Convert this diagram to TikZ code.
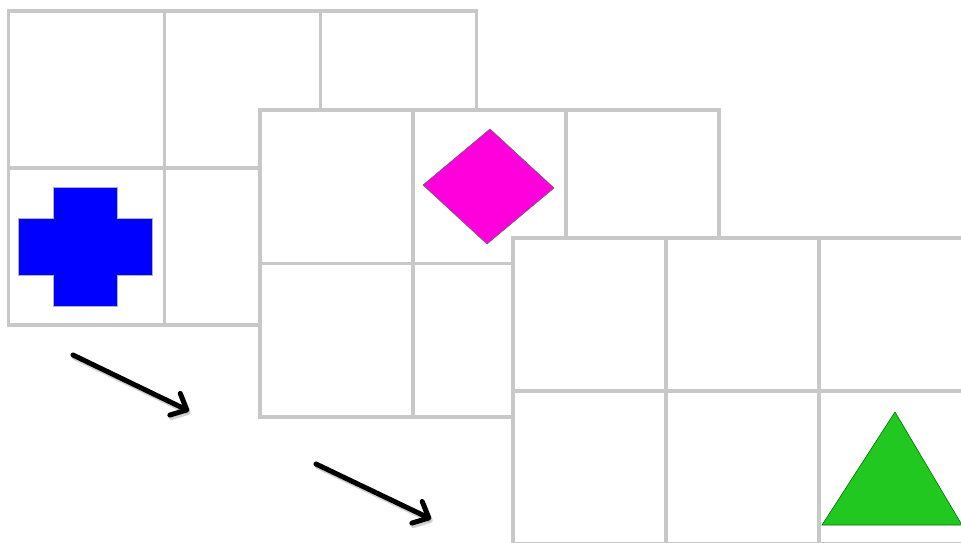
\documentclass[tikz,border=0pt]{standalone}
\usepackage{xcolor}
\usepackage{tikz}
\usetikzlibrary{arrows.meta, calc}
\definecolor{gridgray}{RGB}{200, 200, 200}
\definecolor{crossblue}{RGB}{0, 0, 255}
\definecolor{diamondpink}{RGB}{255, 0, 221}
\definecolor{trianglegreen}{RGB}{32, 200, 32}

\begin{document}
\begin{tikzpicture}[
    x=1pt, y=-1pt,
    cellbox/.style={draw=gridgray, line width=3.5pt, fill=white},
    movearrow/.style={line width=5pt, line cap=round, -{Straight Barb[length=13pt, width=24pt, line cap=round, line join=round]}},
    shadowarrow/.style={movearrow, draw=black, opacity=0.18}
]
\clip (0,0) rectangle (961,543);
\fill[white] (0,0) rectangle (961,543);

% Grid one (cross)
\foreach \c in {0,1,2} {
  \foreach \r in {0,1} {
    \draw[cellbox] ({8.5+156*\c},{11+157*\r}) rectangle ++(156,157);
  }
}
\filldraw[fill=crossblue, draw=gray!60, line width=0.5pt]
  (53,187) -- (117,187) -- (117,218) -- (152,218) -- (152,275) -- (117,275)
  -- (117,306) -- (53,306) -- (53,275) -- (18,275) -- (18,218) -- (53,218) -- cycle;

% Grid two (diamond)
\foreach \c in {0,1,2} {
  \foreach \r in {0,1} {
    \draw[cellbox] ({260+153*\c},{110+153.5*\r}) rectangle ++(153,153.5);
  }
}
\filldraw[fill=diamondpink, draw=black!60, line width=0.6pt]
  (490,129) -- (554,188) -- (487,244) -- (423,185) -- cycle;

% Grid three (triangle)
\foreach \c in {0,1,2} {
  \foreach \r in {0,1} {
    \draw[cellbox] ({513+153*\c},{238+153*\r}) rectangle ++(153,153);
  }
}
\filldraw[fill=trianglegreen, draw=black!55!green, line width=0.6pt]
  (895,412) -- (962,525) -- (822,525) -- cycle;

% Arrows
\coordinate (a1s) at (73,355);
\coordinate (a1e) at (189,411);
\coordinate (a2s) at (316,464);
\coordinate (a2e) at (431,519);
\draw[shadowarrow] ($(a1s)+(1.5,2.5)$) -- ($(a1e)+(1.5,2.5)$);
\draw[shadowarrow] ($(a2s)+(1.5,2.5)$) -- ($(a2e)+(1.5,2.5)$);
\draw[movearrow] (a1s) -- (a1e);
\draw[movearrow] (a2s) -- (a2e);

\end{tikzpicture}
\end{document}
